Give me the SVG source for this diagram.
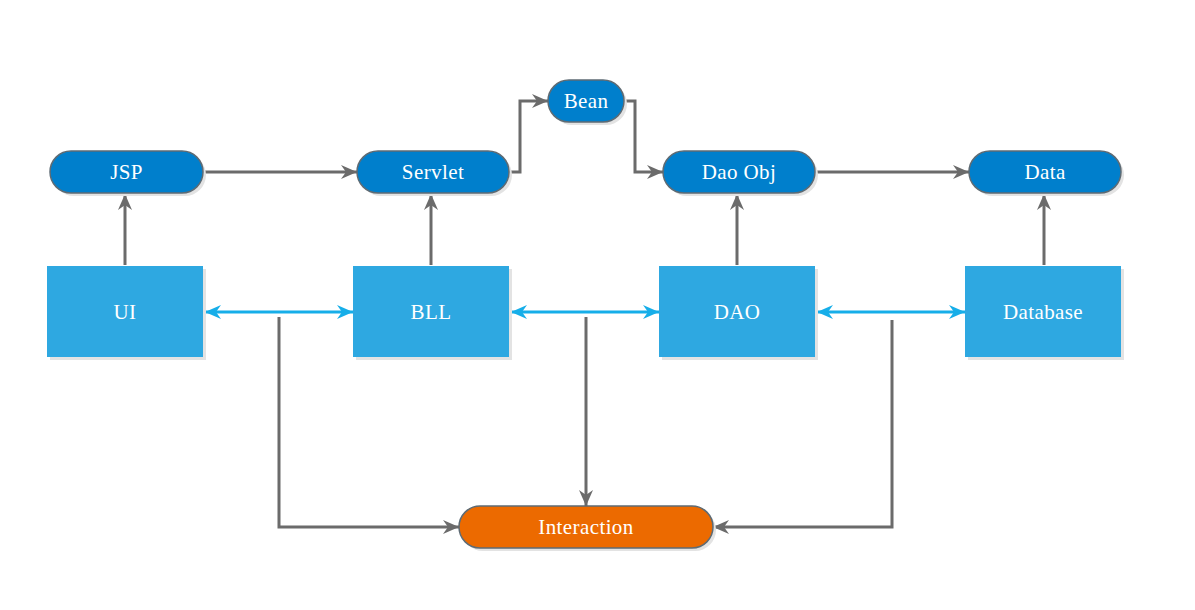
<svg xmlns="http://www.w3.org/2000/svg" width="1195" height="610" viewBox="0 0 1195 610">
<style>
.pill{fill:#007fcc;stroke:#5e6b74;stroke-width:1.5}
.orange{fill:#ec6a00;stroke:#5e6b74;stroke-width:1.5}
.box{fill:#2ea8e1}
.shadow{fill:#e3e3e3}
.lbl{font-family:"Liberation Serif","DejaVu Serif",serif;font-size:21px;letter-spacing:0.4px;fill:#ffffff;text-anchor:middle;dominant-baseline:central}
.g{fill:none;stroke:#6b6b6b;stroke-width:3}
.b{fill:none;stroke:#16aee9;stroke-width:3}
</style>
<defs>
<marker id="ag" viewBox="0 0 16 14" refX="16" refY="7" markerWidth="16" markerHeight="14" markerUnits="userSpaceOnUse" orient="auto">
<path d="M0,0 L16,7 L0,14 L5,7 z" fill="#6b6b6b"/>
</marker>
<marker id="ab" viewBox="0 0 16 14" refX="16" refY="7" markerWidth="16" markerHeight="14" markerUnits="userSpaceOnUse" orient="auto-start-reverse">
<path d="M0,0 L16,7 L0,14 L5,7 z" fill="#16aee9"/>
</marker>
</defs>
<rect width="1195" height="610" fill="#ffffff"/>

<g id="connectors">
<path class="g" d="M125,265 V194" marker-end="url(#ag)"/>
<path class="g" d="M431,265 V194" marker-end="url(#ag)"/>
<path class="g" d="M737,265 V194" marker-end="url(#ag)"/>
<path class="g" d="M1044,265 V194" marker-end="url(#ag)"/>
<path class="g" d="M203,172 H357" marker-end="url(#ag)"/>
<path class="g" d="M509,172 H520 V101 H548" marker-end="url(#ag)"/>
<path class="g" d="M624,101 H635 V172 H663" marker-end="url(#ag)"/>
<path class="g" d="M815,172 H969" marker-end="url(#ag)"/>
<path class="b" d="M205,312 H353" marker-start="url(#ab)" marker-end="url(#ab)"/>
<path class="b" d="M511,312 H659" marker-start="url(#ab)" marker-end="url(#ab)"/>
<path class="b" d="M817,312 H965" marker-start="url(#ab)" marker-end="url(#ab)"/>
<path class="g" d="M279,317 V527 H459" marker-end="url(#ag)"/>
<path class="g" d="M586,317 V506" marker-end="url(#ag)"/>
<path class="g" d="M892,320 V527 H713" marker-end="url(#ag)"/>
</g>

<g id="jsp">
<rect class="shadow" x="53" y="154" width="153" height="42" rx="21"/>
<rect class="pill" x="50" y="151" width="153" height="42" rx="21"/>
<text class="lbl" x="126.5" y="172">JSP</text>
</g>
<g id="servlet">
<rect class="shadow" x="360" y="154" width="152" height="42" rx="21"/>
<rect class="pill" x="357" y="151" width="152" height="42" rx="21"/>
<text class="lbl" x="433" y="172">Servlet</text>
</g>
<g id="bean">
<rect class="shadow" x="551" y="83" width="76" height="42" rx="21"/>
<rect class="pill" x="548" y="80" width="76" height="42" rx="21"/>
<text class="lbl" x="586" y="101">Bean</text>
</g>
<g id="daoobj">
<rect class="shadow" x="666" y="154" width="152" height="42" rx="21"/>
<rect class="pill" x="663" y="151" width="152" height="42" rx="21"/>
<text class="lbl" x="739" y="172">Dao Obj</text>
</g>
<g id="data">
<rect class="shadow" x="972" y="154" width="152" height="42" rx="21"/>
<rect class="pill" x="969" y="151" width="152" height="42" rx="21"/>
<text class="lbl" x="1045" y="172">Data</text>
</g>

<g id="ui">
<rect class="shadow" x="50" y="269" width="156" height="91"/>
<rect class="box" x="47" y="266" width="156" height="91"/>
<text class="lbl" x="125" y="311.5">UI</text>
</g>
<g id="bll">
<rect class="shadow" x="356" y="269" width="156" height="91"/>
<rect class="box" x="353" y="266" width="156" height="91"/>
<text class="lbl" x="431" y="311.5">BLL</text>
</g>
<g id="dao">
<rect class="shadow" x="662" y="269" width="156" height="91"/>
<rect class="box" x="659" y="266" width="156" height="91"/>
<text class="lbl" x="737" y="311.5">DAO</text>
</g>
<g id="database">
<rect class="shadow" x="968" y="269" width="156" height="91"/>
<rect class="box" x="965" y="266" width="156" height="91"/>
<text class="lbl" x="1043" y="311.5">Database</text>
</g>

<g id="interaction">
<rect class="shadow" x="462" y="509" width="254" height="42" rx="21"/>
<rect class="orange" x="459" y="506" width="254" height="42" rx="21"/>
<text class="lbl" x="586" y="527">Interaction</text>
</g>
</svg>
